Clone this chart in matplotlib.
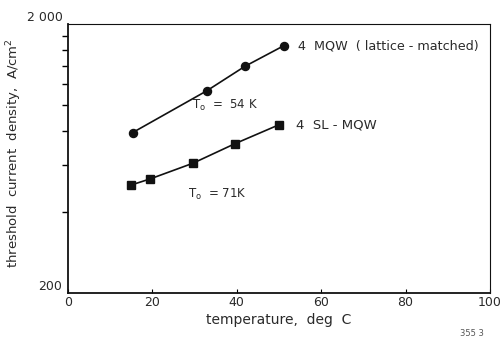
import matplotlib
matplotlib.use("Agg")
import matplotlib.pyplot as plt
from matplotlib.ticker import FixedLocator, NullFormatter


# =========================================================
# Data
# =========================================================

MQW_TEMP = [15.3, 32.9, 41.9, 51.1]
MQW_JTH = [790, 1130, 1392, 1660]

SLMQW_TEMP = [15.0, 19.5, 29.6, 39.5, 50.0]
SLMQW_JTH = [505, 532, 608, 718, 845]

X_TICKS = [0, 20, 40, 60, 80, 100]
X_TICK_LABELS = ["0", "20", "40", "60", "80", "100"]
Y_MAJOR = [200, 2000]
Y_MAJOR_LABELS = ["200", "2 000"]
Y_MINOR = [400, 600, 800, 1000, 1200, 1400, 1600, 1800]

INK = "#111111"
TXT = "#2a2a2a"
FONT = ["DejaVu Sans"]


# =========================================================
# Figure
# =========================================================

plt.rcParams["font.family"] = FONT

fig = plt.figure(figsize=(5.0, 3.43), dpi=100)
ax = fig.add_axes([0.136, 0.145, 0.844, 0.785])

ax.plot(MQW_TEMP, MQW_JTH, "-o", color=INK, lw=1.2, ms=5.8)
ax.plot(SLMQW_TEMP, SLMQW_JTH, "-s", color=INK, lw=1.2, ms=5.8)

ax.set_yscale("log")
ax.set_xlim(0, 100)
ax.set_ylim(200, 2000)

ax.set_xticks(X_TICKS)
ax.set_xticklabels(X_TICK_LABELS, fontsize=9, color=TXT)
ax.tick_params(axis="x", direction="in", length=3, width=0.8, pad=2)

ax.yaxis.set_major_locator(FixedLocator(Y_MAJOR))
ax.set_yticklabels(Y_MAJOR_LABELS, fontsize=9, color=TXT)
ax.yaxis.set_minor_locator(FixedLocator(Y_MINOR))
ax.yaxis.set_minor_formatter(NullFormatter())
ax.tick_params(axis="y", which="major", direction="out", length=0, pad=4)
ax.tick_params(axis="y", which="minor", direction="out", length=4, width=1.0)
for lab in ax.get_yticklabels():
    lab.set_verticalalignment("bottom")

for side, sp in ax.spines.items():
    sp.set_color(INK)
    sp.set_linewidth(1.3 if side in ("left", "bottom") else 0.8)

ax.set_xlabel("temperature,  deg  C", fontsize=10, color=TXT, labelpad=3)
ax.set_ylabel("threshold  current  density,  A/cm$^2$", fontsize=9.5,
              color=TXT)
ax.yaxis.set_label_coords(-0.105, 0.52)

# annotations
ax.text(54.5, 1660, "4  MQW  ( lattice - matched)", fontsize=9.2, color=TXT,
        va="center", ha="left")
ax.text(54.0, 845, "4  SL - MQW", fontsize=9.5, color=TXT,
        va="center", ha="left")
ax.text(29.5, 1000, "T$_\\mathregular{o}$  =  54 K", fontsize=8.5,
        color=TXT, va="center", ha="left")
ax.text(28.5, 466, "T$_\\mathregular{o}$  = 71K", fontsize=8.5,
        color=TXT, va="center", ha="left")

fig.text(0.92, 0.02, "355 3", fontsize=6, color="#555555", ha="left")

fig.savefig("out.png", dpi=100)
